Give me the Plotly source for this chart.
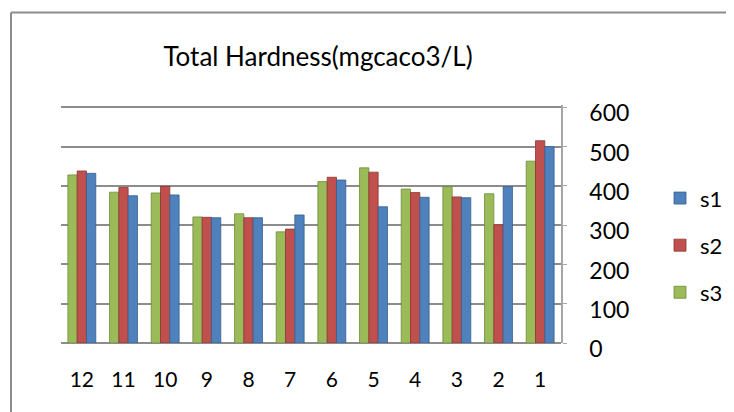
import plotly.graph_objects as go

categories = ["12", "11", "10", "9", "8", "7", "6", "5", "4", "3", "2", "1"]
s1 = [432, 375, 377, 319, 319, 326, 415, 347, 371, 370, 398, 500]
s2 = [438, 396, 399, 320, 319, 290, 422, 435, 383, 372, 301, 515]
s3 = [428, 384, 382, 321, 329, 283, 411, 446, 392, 398, 380, 463]
y_ticks = [0, 100, 200, 300, 400, 500, 600]

fig = go.Figure()
fig.add_trace(go.Bar(x=categories, y=s3, name="s3", legendgroup="s3", legendrank=3,
                     marker=dict(color="#9BBB59", line=dict(color="#6f8a3a", width=0.8))))
fig.add_trace(go.Bar(x=categories, y=s2, name="s2", legendgroup="s2", legendrank=2,
                     marker=dict(color="#C0504D", line=dict(color="#8e3431", width=0.8))))
fig.add_trace(go.Bar(x=categories, y=s1, name="s1", legendgroup="s1", legendrank=1,
                     marker=dict(color="#4F81BD", line=dict(color="#35608f", width=0.8))))

# page body has an 8px margin; work in window pixels and convert
OFF = 8
W, H = 734 - OFF, 412 - OFF
YMAX = 606
pw = 500
ph = 236 * YMAX / 600
L = 61 - OFF
T = 343 - ph - OFF
R, B = W - L - pw, H - T - ph

def px_x(x):
    return (x - OFF - L) / pw

def px_y(y):
    return (H - B - (y - OFF)) / ph

fig.update_layout(
    width=W, height=H,
    margin=dict(l=L, r=R, t=T, b=B, autoexpand=False),
    paper_bgcolor="white", plot_bgcolor="white",
    font=dict(family="Lato, 'Open Sans', sans-serif", size=22, color="black"),
    title=dict(text="Total Hardness(mgcaco3/L)", x=px_x(318), xref="paper", xanchor="center",
               y=1 - (57 - OFF) / H, yanchor="middle", font=dict(size=26)),
    barmode="group", bargap=0.33, bargroupgap=0,
    showlegend=True,
    legend=dict(traceorder="grouped", x=px_x(660), xanchor="left", y=px_y(177), yanchor="top",
                yref="paper", font=dict(size=22), itemwidth=30, tracegroupgap=15.5,
                bgcolor="rgba(0,0,0,0)"),
    xaxis=dict(type="category", categoryorder="array", categoryarray=categories,
               showgrid=False, showline=False, ticks="", ticklabelstandoff=22,
               tickfont=dict(size=21)),
    yaxis=dict(side="right", range=[0, YMAX], tickvals=y_ticks, showgrid=True,
               gridcolor="#8c8c8c", gridwidth=1.8, zeroline=True, zerolinecolor="#8c8c8c",
               zerolinewidth=2, showline=True, linecolor="#a6a6a6", linewidth=1.5,
               ticks="outside", ticklen=4, tickcolor="#a6a6a6",
               ticklabelstandoff=18, ticklabelshift=6, tickfont=dict(size=23)),
)

# outer chart frame (left and top edges)
fig.add_shape(type="line", xref="paper", yref="paper", x0=px_x(11), x1=px_x(11), y0=px_y(412), y1=px_y(12),
              line=dict(color="#8c8c8c", width=2))
fig.add_shape(type="line", xref="paper", yref="paper", x0=px_x(11), x1=px_x(734), y0=px_y(12), y1=px_y(12),
              line=dict(color="#8c8c8c", width=2))

fig.write_html("out.html")
